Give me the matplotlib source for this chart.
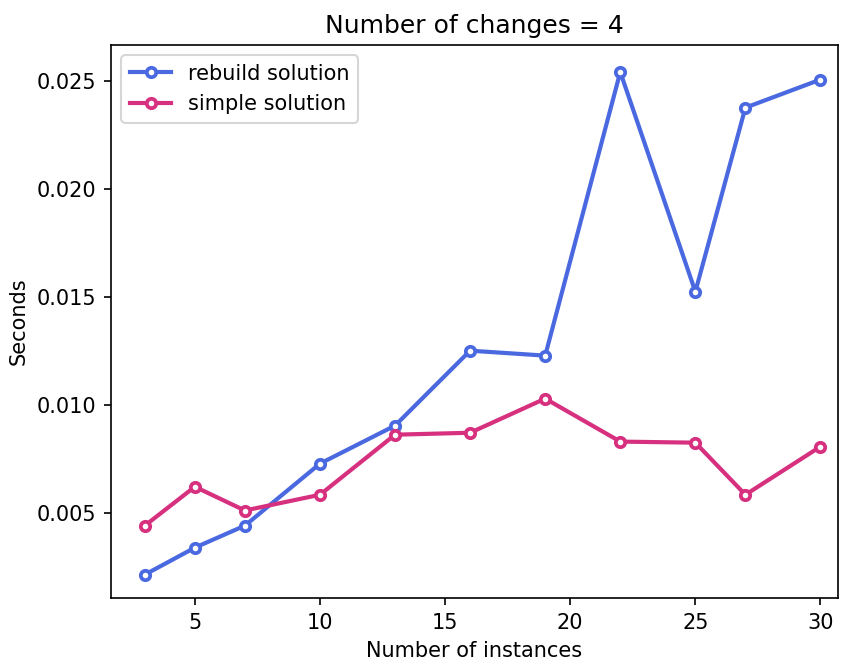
import matplotlib
matplotlib.use("Agg")
import matplotlib.pyplot as plt

instances = [3, 5, 7, 10, 13, 16, 19, 22, 25, 27, 30]
rebuild = [0.00213, 0.00338, 0.0044, 0.00727, 0.00903, 0.0125, 0.01227, 0.0254, 0.01523, 0.02375, 0.02505]
simple = [0.0044, 0.0062, 0.0051, 0.00583, 0.00861, 0.0087, 0.01028, 0.00829, 0.00824, 0.00583, 0.00806]
xticks = [5, 10, 15, 20, 25, 30]
yticks = [0.005, 0.010, 0.015, 0.020, 0.025]

dpi = 150
fig = plt.figure(figsize=(846 / dpi, 664 / dpi), dpi=dpi)
ax = fig.add_axes([111 / 846, 1 - 598 / 664, (838 - 111) / 846, (598 - 45) / 664])

ax.plot(instances, rebuild, color="#4a69e0", lw=2.0, marker="o", ms=4.5,
        mfc="white", mew=1.8, label="rebuild solution")
ax.plot(instances, simple, color="#d6307f", lw=2.0, marker="o", ms=4.5,
        mfc="white", mew=1.8, label="simple solution")

ax.set_xticks(xticks)
ax.set_yticks(yticks)
ax.set_yticklabels([f"{v:.3f}" for v in yticks])
ax.set_xlim(1.65, 30.7)
ax.set_ylim(0.00105, 0.02665)
ax.set_xlabel("Number of instances")
ax.set_ylabel("Seconds")
ax.set_title("Number of changes = 4", fontsize=12)
ax.legend(loc="upper left")

fig.savefig("out.png", dpi=dpi)
